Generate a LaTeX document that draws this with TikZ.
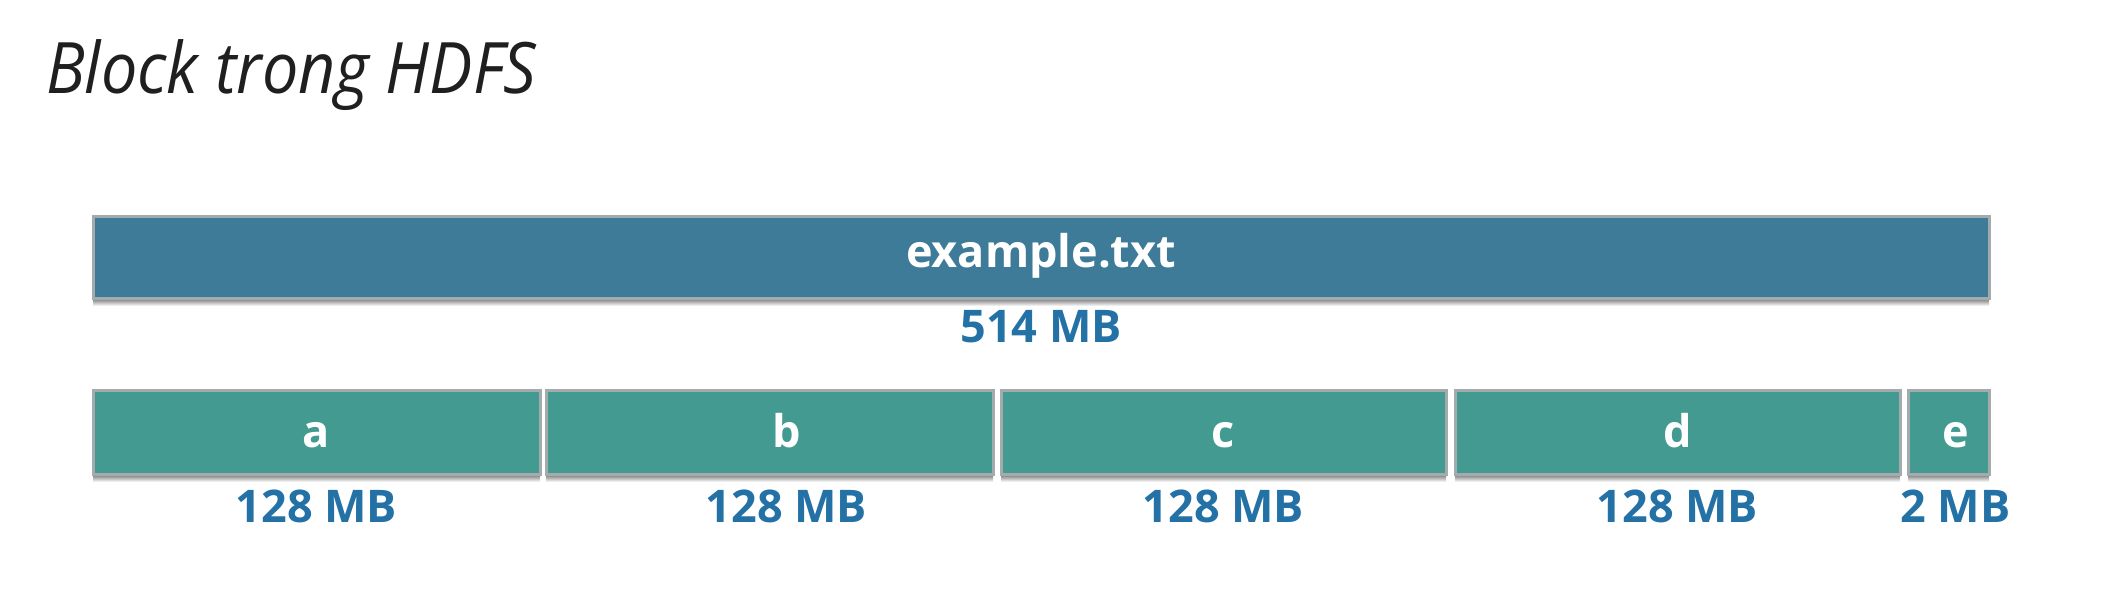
\documentclass[tikz,border=0pt]{standalone}
\usepackage{fontspec}
\setmainfont{Open Sans}
\newfontfamily\titlefont{Open Sans}[FakeStretch=0.91]
\definecolor{filebar}{HTML}{3D7B98}
\definecolor{blockbar}{HTML}{439A91}
\definecolor{barline}{HTML}{A3ABAD}
\definecolor{sizeblue}{HTML}{2371A5}
\definecolor{shade}{HTML}{EDEEEE}
\tikzset{
  barbox/.style={draw=barline, line width=3pt, inner sep=0pt, outer sep=0pt},
  filebox/.style={barbox, fill=filebar},
  blockbox/.style={barbox, fill=blockbar},
  barname/.style={text=white, font=\fontsize{45}{50}\selectfont\bfseries, anchor=base, inner sep=0pt},
  sizelab/.style={text=sizeblue, font=\fontsize{45}{50}\selectfont\bfseries, anchor=base, inner sep=0pt},
}
\begin{document}
\begin{tikzpicture}[x=1pt,y=-1pt]
\useasboundingbox (0,0) rectangle (2104,604);
% shadows
\fill[shade] (93,299) rectangle (1989,306);
\foreach \l/\r in {93/540,546/993,1001/1446,1455/1900,1908/1989}{
  \fill[shade] (\l,475) rectangle (\r,482);
}
% title
\node[anchor=base west, inner sep=0pt, font=\titlefont\itshape\fontsize{71}{80}\selectfont, text=black!88] (title) at (46,94) {Block trong HDFS};
% file bar
\node[filebox, minimum width=1896pt, minimum height=81pt] (file) at (1041,257.5) {};
\node[barname] (filename) at ([yshift=-9.5pt]file.center) {example.txt};
\node[sizelab] (filesize) at ([yshift=-84.5pt]file.center) {514 MB};
% blocks
\node[blockbox, minimum width=447pt, minimum height=84pt] (a) at (316.5,432) {};
\node[blockbox, minimum width=447pt, minimum height=84pt] (b) at (769.5,432) {};
\node[blockbox, minimum width=445pt, minimum height=84pt] (c) at (1223.5,432) {};
\node[blockbox, minimum width=445pt, minimum height=84pt] (d) at (1677.5,432) {};
\node[blockbox, minimum width=81pt, minimum height=84pt] (e) at (1948.5,432) {};
\foreach \n/\dx in {a/0,b/17,c/0,d/0,e/7}{
  \node[barname] (\n name) at ([xshift=\dx pt,yshift=-15pt]\n.center) {\n};
}
\foreach \n/\dx in {a/0,b/17,c/0,d/0}{
  \node[sizelab] (\n size) at ([xshift=\dx pt,yshift=-90pt]\n.center) {128 MB};
}
\node[sizelab] (e size) at ([xshift=7pt,yshift=-90pt]e.center) {2 MB};
\end{tikzpicture}
\end{document}
